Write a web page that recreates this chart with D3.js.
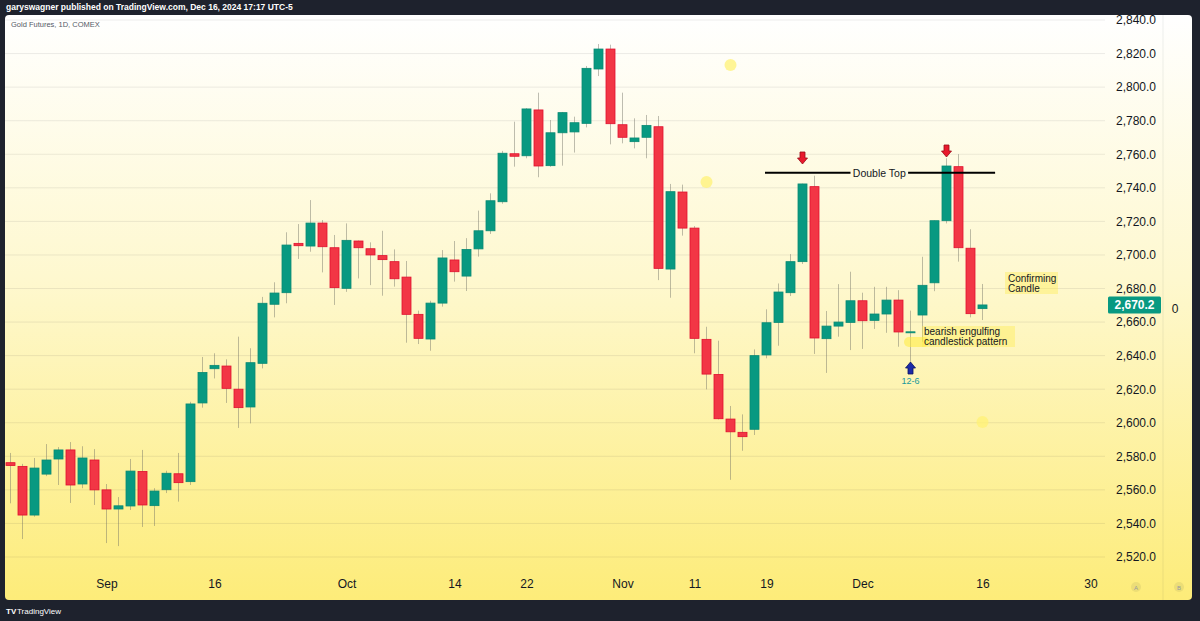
<!DOCTYPE html>
<html>
<head>
<meta charset="utf-8">
<script src="https://cdn.jsdelivr.net/npm/d3@7"></script>
<style>
  html, body { margin: 0; padding: 0; background: #1e222d; }
  svg { display: block; font-family: "Liberation Sans", "DejaVu Sans", sans-serif; }
</style>
</head>
<body>
<svg id="chart" width="1200" height="621"></svg>
<script>
// Handelstage (Gold Futures, 1D, COMEX)
const dates = [
  '2024-08-21','2024-08-22','2024-08-23','2024-08-26','2024-08-27','2024-08-28','2024-08-29','2024-08-30',
  '2024-09-03','2024-09-04','2024-09-05','2024-09-06','2024-09-09','2024-09-10','2024-09-11','2024-09-12',
  '2024-09-13','2024-09-16','2024-09-17','2024-09-18','2024-09-19','2024-09-20','2024-09-23','2024-09-24',
  '2024-09-25','2024-09-26','2024-09-27','2024-09-30',
  '2024-10-01','2024-10-02','2024-10-03','2024-10-04','2024-10-07','2024-10-08','2024-10-09','2024-10-10',
  '2024-10-11','2024-10-14','2024-10-15','2024-10-16','2024-10-17','2024-10-18','2024-10-21','2024-10-22',
  '2024-10-23','2024-10-24','2024-10-25','2024-10-28','2024-10-29','2024-10-30','2024-10-31',
  '2024-11-01','2024-11-04','2024-11-05','2024-11-06','2024-11-07','2024-11-08','2024-11-11','2024-11-12',
  '2024-11-13','2024-11-14','2024-11-15','2024-11-18','2024-11-19','2024-11-20','2024-11-21','2024-11-22',
  '2024-11-25','2024-11-26','2024-11-27','2024-11-29',
  '2024-12-02','2024-12-03','2024-12-04','2024-12-05','2024-12-06','2024-12-09','2024-12-10','2024-12-11',
  '2024-12-12','2024-12-13','2024-12-16'
];

const open = [
  2576.2,2574.0,2545.0,2569.4,2578.4,2583.8,2563.5,2577.8,
  2560.0,2548.6,2550.4,2571.0,2550.6,2560.1,2569.6,2564.9,
  2611.8,2632.2,2633.8,2620.0,2609.4,2635.4,2670.6,2677.5,
  2706.9,2705.3,2719.0,2704.3,
  2680.1,2708.3,2703.7,2699.6,2696.0,2686.8,2664.6,2649.9,
  2671.3,2697.0,2687.4,2703.6,2714.4,2731.7,2760.3,2759.1,
  2786.4,2753.2,2772.8,2773.3,2778.4,2810.8,2822.7,
  2777.6,2767.5,2770.1,2776.4,2691.6,2737.5,2716.0,2649.7,
  2628.8,2602.2,2594.3,2596.1,2640.4,2659.8,2677.5,2696.0,
  2740.7,2650.1,2657.6,2659.8,
  2672.7,2661.0,2664.8,2673.1,2654.0,2664.2,2683.4,2720.4,
  2752.6,2704.0,2668.0
];
const high = [
  2582.0,2575.5,2579.0,2587.3,2585.5,2588.5,2586.0,2584.3,
  2563.5,2555.7,2578.4,2583.8,2561.0,2571.4,2582.0,2612.5,
  2639.2,2641.4,2637.8,2651.3,2644.4,2675.0,2683.7,2713.5,
  2718.4,2732.7,2720.8,2711.9,
  2718.8,2708.6,2707.5,2714.4,2703.3,2696.4,2666.8,2672.7,
  2702.9,2708.3,2710.0,2726.4,2736.7,2762.0,2779.4,2787.5,
  2796.7,2780.4,2785.2,2782.4,2812.6,2825.7,2825.3,
  2796.7,2781.4,2783.4,2782.8,2742.3,2741.9,2717.2,2657.2,
  2648.9,2610.0,2605.0,2643.7,2667.6,2683.0,2700.5,2742.5,
  2747.2,2666.6,2682.6,2690.0,
  2677.5,2681.0,2681.0,2679.0,2666.8,2698.9,2720.6,2757.6,
  2760.1,2715.3,2682.7
];
const low = [
  2552.0,2530.7,2544.0,2568.2,2562.9,2552.2,2561.0,2551.0,
  2528.3,2526.5,2548.0,2537.9,2538.5,2558.1,2553.0,2562.9,
  2609.0,2626.4,2611.8,2596.9,2599.6,2632.4,2662.8,2671.2,
  2697.6,2701.9,2689.6,2670.2,
  2678.0,2686.0,2682.0,2675.7,2681.1,2647.7,2646.9,2642.9,
  2669.2,2684.1,2678.5,2699.0,2712.5,2730.5,2752.6,2757.6,
  2746.3,2752.5,2753.2,2761.0,2776.0,2806.6,2765.9,
  2766.5,2763.5,2757.6,2685.0,2674.5,2711.5,2641.4,2619.9,
  2602.0,2566.0,2583.3,2592.7,2638.4,2645.9,2675.5,2694.6,
  2641.0,2629.7,2651.3,2643.3,
  2644.0,2655.9,2653.6,2645.3,2635.6,2648.3,2678.4,2718.8,
  2696.0,2662.8,2661.2
];
const close = [
  2574.5,2545.0,2573.0,2577.8,2583.8,2562.9,2579.0,2560.0,
  2548.6,2550.5,2571.2,2551.0,2559.3,2569.9,2564.3,2611.2,
  2630.0,2634.2,2620.5,2609.0,2635.8,2671.2,2677.3,2705.9,
  2705.5,2719.0,2704.9,2680.5,
  2708.7,2704.3,2700.0,2697.2,2685.8,2664.6,2650.3,2671.3,
  2698.2,2690.0,2703.3,2714.4,2732.3,2760.6,2758.8,2787.0,
  2753.0,2772.8,2784.8,2778.8,2811.2,2822.7,2778.2,
  2770.1,2769.7,2777.2,2692.0,2737.7,2716.0,2650.3,2629.0,
  2602.4,2594.6,2591.7,2640.0,2659.6,2677.9,2696.0,2742.3,
  2650.5,2657.6,2660.0,2672.7,
  2660.8,2664.8,2673.1,2654.1,2654.2,2681.9,2720.4,2753.0,
  2704.3,2665.0,2670.2
];

// Preisachse und Zeitachse
const priceTicks = [2520, 2540, 2560, 2580, 2600, 2620, 2640, 2660, 2680, 2700,
                    2720, 2740, 2760, 2780, 2800, 2820, 2840];
const timeTickIndex = [8, 17, 28, 37, 43, 51, 57, 63, 71, 81, 90];
const timeTickLabels = ['Sep', '16', 'Oct', '14', '22', 'Nov', '11', '19', 'Dec', '16', '30'];

const lastPrice = 2670.2;

const candles = dates.map((d, i) => ({
  i, date: d, o: open[i], h: high[i], l: low[i], c: close[i]
}));

const W = 1200, H = 621;
const pane = { left: 5, top: 15, right: 1192, bottom: 600 };
const plotRight = 1105;

const svg = d3.select('#chart');

// Skalen: Index -> x, Preis -> y
const x = d3.scaleLinear().domain([0, 81]).range([10.5, 982.5]);
const y = d3.scaleLinear().domain([2520, 2840]).range([557, 20]);

const defs = svg.append('defs');
const grad = defs.append('linearGradient')
  .attr('id', 'bg').attr('x1', 0).attr('y1', 0).attr('x2', 0).attr('y2', 1);
grad.append('stop').attr('offset', '0%').attr('stop-color', '#ffffff');
grad.append('stop').attr('offset', '45%').attr('stop-color', '#fef8cf');
grad.append('stop').attr('offset', '100%').attr('stop-color', '#fdec79');

defs.append('clipPath').attr('id', 'plotClip')
  .append('rect')
  .attr('x', pane.left).attr('y', pane.top)
  .attr('width', plotRight - pane.left).attr('height', 570 - pane.top);

// Dunkler Rahmen + Hintergrund
svg.append('rect').attr('width', W).attr('height', H).attr('fill', '#1e222d');
svg.append('rect')
  .attr('x', pane.left).attr('y', pane.top)
  .attr('width', pane.right - pane.left).attr('height', pane.bottom - pane.top)
  .attr('rx', 4)
  .attr('fill', 'url(#bg)');

// Trennlinie vor der rechten Skala
svg.append('line')
  .attr('x1', 1163).attr('x2', 1163).attr('y1', pane.top).attr('y2', pane.bottom)
  .attr('stroke', 'rgba(42,46,57,0.08)');

// Kopfzeile
svg.append('text')
  .attr('x', 6).attr('y', 10)
  .attr('fill', '#ffffff').attr('font-size', 8.5).attr('font-weight', 'bold')
  .text('garyswagner published on TradingView.com, Dec 16, 2024 17:17 UTC-5');

// Gitterlinien (horizontal)
svg.append('g')
  .selectAll('line')
  .data(priceTicks)
  .enter()
  .append('line')
  .attr('x1', pane.left).attr('x2', plotRight)
  .attr('y1', d => y(d)).attr('y2', d => y(d))
  .attr('stroke', 'rgba(42,46,57,0.09)')
  .attr('stroke-width', 1);

svg.append('text')
  .attr('x', 11).attr('y', 27)
  .attr('fill', '#555a66').attr('font-size', 7.5)
  .text('Gold Futures, 1D, COMEX');

// Preisachse rechts
const yAxis = d3.axisRight(y)
  .tickValues(priceTicks)
  .tickFormat(d3.format(',.1f'))
  .tickSize(0)
  .tickPadding(0);

const yAxisG = svg.append('g')
  .attr('transform', `translate(1116,0)`)
  .call(yAxis);
yAxisG.select('.domain').remove();
yAxisG.selectAll('text')
  .attr('fill', '#131722')
  .attr('font-size', 12)
  .attr('font-family', '"Liberation Sans", "DejaVu Sans", sans-serif');

// Zeitachse unten
const xAxis = d3.axisBottom(x)
  .tickValues(timeTickIndex)
  .tickFormat((d, i) => timeTickLabels[i])
  .tickSize(0)
  .tickPadding(0);

const xAxisG = svg.append('g')
  .attr('transform', `translate(0,579)`)
  .call(xAxis);
xAxisG.select('.domain').remove();
xAxisG.selectAll('text')
  .attr('fill', '#131722')
  .attr('font-size', 12)
  .attr('font-family', '"Liberation Sans", "DejaVu Sans", sans-serif');

// Kerzen
const plot = svg.append('g').attr('clip-path', 'url(#plotClip)');
const bodyW = 9;
const up = d => d.c >= d.o;

plot.selectAll('line.wick')
  .data(candles)
  .enter()
  .append('line')
  .attr('class', 'wick')
  .attr('x1', d => x(d.i)).attr('x2', d => x(d.i))
  .attr('y1', d => y(d.h)).attr('y2', d => y(d.l))
  .attr('stroke', 'rgba(110,110,100,0.45)')
  .attr('stroke-width', 1);

plot.selectAll('rect.body')
  .data(candles)
  .enter()
  .append('rect')
  .attr('class', 'body')
  .attr('x', d => x(d.i) - bodyW / 2)
  .attr('y', d => y(Math.max(d.o, d.c)))
  .attr('width', bodyW)
  .attr('height', d => Math.max(1, Math.abs(y(d.o) - y(d.c))))
  .attr('fill', d => up(d) ? '#089981' : '#f23645')
  .attr('stroke', d => up(d) ? '#0a8a74' : '#e0102e')
  .attr('stroke-width', 0.8);

// Gelbe Punkte
const dots = [[60, 2813.2], [58, 2743.5], [81, 2600.4]];
plot.selectAll('circle.dot')
  .data(dots)
  .enter()
  .append('circle')
  .attr('cx', d => x(d[0])).attr('cy', d => y(d[1]))
  .attr('r', 6)
  .attr('fill', '#fff176')
  .attr('opacity', 0.75);

// Double Top Linie
const dtY = y(2749);
plot.append('line')
  .attr('x1', x(62.875)).attr('x2', x(70.0))
  .attr('y1', dtY).attr('y2', dtY)
  .attr('stroke', '#000').attr('stroke-width', 2);
plot.append('line')
  .attr('x1', x(74.8)).attr('x2', x(82.05))
  .attr('y1', dtY).attr('y2', dtY)
  .attr('stroke', '#000').attr('stroke-width', 2);
plot.append('text')
  .attr('x', x(72.4)).attr('y', dtY + 4)
  .attr('text-anchor', 'middle')
  .attr('fill', '#131722').attr('font-size', 10.5)
  .text('Double Top');

// Pfeile
function arrowDown(cx, tipY, fill, stroke) {
  const p = `M${cx - 2.5},${tipY - 12} L${cx + 2.5},${tipY - 12} L${cx + 2.5},${tipY - 6}
             L${cx + 5},${tipY - 6} L${cx},${tipY} L${cx - 5},${tipY - 6} L${cx - 2.5},${tipY - 6} Z`;
  plot.append('path').attr('d', p).attr('fill', fill).attr('stroke', stroke).attr('stroke-width', 0.8);
}
function arrowUp(cx, tipY, fill, stroke) {
  const p = `M${cx - 2.5},${tipY + 12} L${cx + 2.5},${tipY + 12} L${cx + 2.5},${tipY + 6}
             L${cx + 5},${tipY + 6} L${cx},${tipY} L${cx - 5},${tipY + 6} L${cx - 2.5},${tipY + 6} Z`;
  plot.append('path').attr('d', p).attr('fill', fill).attr('stroke', stroke).attr('stroke-width', 0.8);
}
arrowDown(x(66), 164, '#e8192c', '#9b0a16');
arrowDown(x(78), 157, '#e8192c', '#9b0a16');
arrowUp(x(75), 362, '#1c2aa8', '#0c1460');

plot.append('text')
  .attr('x', x(75)).attr('y', 384)
  .attr('text-anchor', 'middle')
  .attr('fill', '#1b9a9c').attr('font-size', 9)
  .text('12-6');

// Textnotizen mit gelbem Hintergrund
plot.append('line')
  .attr('x1', 909).attr('x2', 924).attr('y1', 342).attr('y2', 342)
  .attr('stroke', 'rgba(255,235,59,0.55)').attr('stroke-width', 10)
  .attr('stroke-linecap', 'round');
plot.append('rect')
  .attr('x', 922).attr('y', 326).attr('width', 93).attr('height', 21)
  .attr('fill', 'rgba(255,235,59,0.35)');
plot.append('text')
  .attr('x', 924).attr('y', 335)
  .attr('fill', '#131722').attr('font-size', 10)
  .text('bearish engulfing');
plot.append('text')
  .attr('x', 924).attr('y', 345)
  .attr('fill', '#131722').attr('font-size', 10)
  .text('candlestick pattern');

plot.append('rect')
  .attr('x', 1005).attr('y', 272).attr('width', 53).attr('height', 22)
  .attr('fill', 'rgba(255,235,59,0.35)');
plot.append('text')
  .attr('x', 1008).attr('y', 282)
  .attr('fill', '#131722').attr('font-size', 10)
  .text('Confirming');
plot.append('text')
  .attr('x', 1008).attr('y', 292)
  .attr('fill', '#131722').attr('font-size', 10)
  .text('Candle');

// Letzter Kurs
const lpY = y(lastPrice);
svg.append('rect')
  .attr('x', 1108).attr('y', lpY - 8.5).attr('width', 53).attr('height', 17)
  .attr('rx', 1.5)
  .attr('fill', '#089981');
svg.append('text')
  .attr('x', 1134.5).attr('y', lpY + 4.5)
  .attr('text-anchor', 'middle')
  .attr('fill', '#ffffff').attr('font-size', 12).attr('font-weight', 'bold')
  .text(d3.format(',.1f')(lastPrice));
svg.append('text')
  .attr('x', 1175).attr('y', lpY + 8)
  .attr('text-anchor', 'middle')
  .attr('fill', '#131722').attr('font-size', 12)
  .text('0');

// A / B Knöpfe
[[1136, 'A'], [1179, 'B']].forEach(([cx, t]) => {
  svg.append('circle').attr('cx', cx).attr('cy', 587).attr('r', 5).attr('fill', 'rgba(42,46,57,0.08)');
  svg.append('text').attr('x', cx).attr('y', 589.5).attr('text-anchor', 'middle')
    .attr('fill', '#9598a1').attr('font-size', 6).text(t);
});

// Fußzeile mit Logo
svg.append('text')
  .attr('x', 6).attr('y', 614)
  .attr('fill', '#ffffff').attr('font-size', 8).attr('font-weight', 'bold')
  .text('TV');
svg.append('text')
  .attr('x', 17).attr('y', 614)
  .attr('fill', '#ffffff').attr('font-size', 8)
  .text('TradingView');
</script>
</body>
</html>
